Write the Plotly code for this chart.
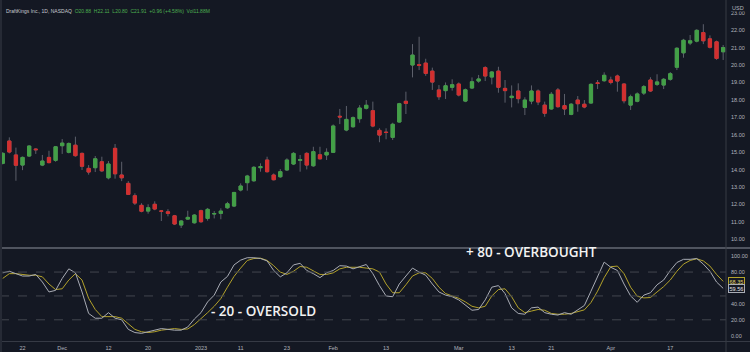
import pandas as pd
import plotly.graph_objects as go

# ---- categories: trading days (NASDAQ) ----
holidays = ["2022-11-24", "2022-12-26", "2023-01-02", "2023-01-16", "2023-02-20", "2023-04-07"]
cbd = pd.offsets.CustomBusinessDay(holidays=holidays)
dates = [d.strftime("%Y-%m-%d") for d in pd.date_range("2022-11-17", "2023-04-27", freq=cbd)]

# ---- OHLC values ----
opens = [14.36, 15.64, 14.84, 14.26, 14.78, 15.18, 14.26, 14.70, 14.53, 15.37,
         14.99, 15.40, 14.93, 14.07, 14.11, 14.45, 13.53, 15.22, 13.69, 13.21,
         12.50, 11.95, 11.62, 12.01, 11.63, 11.58, 11.35, 10.82, 11.16, 10.95,
         11.64, 11.20, 11.45, 11.49, 11.81, 11.91, 12.83, 13.25, 13.36, 14.11,
         14.55, 13.69, 13.59, 13.98, 14.32, 14.53, 14.93, 14.22, 14.85, 14.84,
         14.99, 17.06, 16.27, 16.46, 16.92, 17.52, 17.38, 16.25, 16.15, 15.85,
         16.73, 17.92, 20.00, 20.02, 20.11, 19.65, 18.57, 18.53, 18.72, 18.91,
         17.93, 18.68, 19.08, 19.85, 19.31, 19.65, 18.66, 18.13, 18.51, 17.57,
         17.93, 18.51, 17.70, 17.48, 18.57, 17.67, 17.17, 17.99, 17.75, 17.82,
         18.98, 19.10, 19.14, 19.37, 18.91, 17.70, 17.92, 18.39, 19.14, 18.89,
         18.85, 19.18, 19.87, 20.70, 21.26, 21.37, 21.86, 21.50, 21.33, 20.76]
highs = [15.00, 15.85, 15.26, 14.75, 15.40, 15.22, 14.84, 15.08, 15.35, 15.75,
         15.56, 15.89, 14.98, 14.26, 14.78, 14.74, 14.49, 15.47, 14.45, 13.34,
         12.64, 12.07, 12.01, 12.18, 11.68, 11.73, 11.40, 11.10, 11.64, 11.45,
         11.70, 11.80, 11.62, 11.78, 12.15, 12.72, 13.21, 13.70, 14.20, 14.36,
         14.74, 13.78, 14.03, 14.65, 15.00, 14.84, 15.00, 15.31, 15.31, 15.22,
         16.59, 17.48, 17.65, 17.05, 17.70, 17.99, 17.90, 16.37, 16.37, 16.69,
         17.83, 18.47, 21.20, 21.62, 20.36, 19.85, 18.85, 19.00, 19.18, 19.00,
         18.65, 19.29, 19.43, 19.93, 19.65, 19.90, 19.14, 18.83, 18.95, 18.15,
         18.83, 18.60, 17.90, 18.45, 18.68, 18.34, 17.82, 18.22, 17.99, 18.95,
         19.14, 19.58, 19.33, 19.45, 18.95, 18.30, 18.43, 18.85, 19.30, 19.47,
         19.25, 19.60, 21.02, 21.50, 21.72, 22.05, 22.34, 21.70, 21.40, 21.15]
lows = [14.30, 14.93, 13.36, 13.97, 14.72, 14.90, 14.20, 14.36, 14.45, 14.90,
        14.93, 14.74, 13.98, 13.71, 13.86, 13.86, 13.44, 13.48, 13.34, 12.55,
        11.97, 11.55, 11.47, 11.67, 11.05, 11.32, 10.82, 10.65, 11.13, 10.90,
        10.95, 11.07, 11.20, 11.15, 11.75, 11.85, 12.75, 12.79, 13.30, 13.88,
        13.83, 13.38, 13.53, 13.92, 14.26, 13.88, 14.01, 14.16, 14.58, 14.55,
        14.95, 16.61, 16.20, 16.40, 16.69, 17.45, 16.43, 15.57, 15.74, 15.70,
        16.69, 17.19, 19.29, 19.71, 19.38, 18.57, 18.00, 18.05, 18.53, 18.20,
        17.87, 18.62, 18.98, 19.08, 18.89, 18.41, 17.84, 17.57, 17.80, 17.13,
        17.75, 17.70, 17.03, 17.43, 17.55, 17.13, 17.12, 17.32, 17.52, 17.78,
        18.62, 19.04, 18.89, 18.47, 17.80, 17.42, 17.86, 18.28, 18.45, 18.80,
        18.62, 19.10, 19.71, 20.42, 21.14, 21.30, 21.20, 20.95, 20.30, 20.29]
closes = [14.93, 15.01, 14.25, 14.70, 15.35, 15.14, 14.49, 14.40, 15.31, 15.52,
          15.50, 14.80, 14.19, 13.86, 14.62, 13.93, 14.32, 13.76, 13.53, 12.58,
          12.08, 11.61, 11.81, 11.74, 11.61, 11.49, 10.88, 11.05, 11.26, 11.39,
          11.01, 11.72, 11.48, 11.62, 12.04, 12.69, 13.06, 13.63, 14.13, 14.17,
          13.88, 13.42, 13.88, 14.55, 14.93, 14.57, 14.26, 15.03, 14.62, 14.99,
          16.50, 17.02, 16.88, 16.98, 17.53, 17.69, 16.50, 15.98, 16.13, 16.60,
          17.78, 17.80, 20.57, 19.98, 19.52, 19.02, 18.18, 18.81, 18.87, 18.28,
          18.58, 19.04, 19.20, 19.37, 19.60, 18.72, 18.53, 18.21, 18.07, 17.99,
          18.51, 17.88, 17.23, 18.32, 17.61, 17.48, 17.75, 17.78, 17.59, 18.89,
          18.94, 19.41, 19.00, 19.08, 17.95, 18.18, 18.34, 18.76, 18.51, 19.03,
          19.18, 19.50, 20.96, 21.42, 21.39, 21.99, 21.39, 21.02, 20.38, 21.00]

# ---- Stochastic %K and %D ----
stoch_k = [79, 81, 78, 75, 75, 77, 67.5, 55, 57, 72,
           84, 79, 55, 28, 22, 22, 29, 22, 20, 8,
           4, 3, 5, 7, 9, 8, 7, 7, 11, 21,
           29, 42.5, 51, 67.5, 74.5, 89, 95, 98, 98, 97,
           94, 82, 74, 79, 89, 91, 82, 78, 73, 79,
           82, 88, 87.5, 84, 87, 89.5, 78, 63, 50, 49,
           65, 75, 85, 80, 76, 65, 55, 51, 49, 45,
           38, 32, 33, 45, 61, 63, 53, 35, 28, 27,
           35, 36, 29, 27, 26, 29, 27, 33, 38, 56,
           75, 92.5, 86, 82, 65, 50, 42, 51, 54, 64,
           70, 82, 92, 96, 96, 97, 90, 81, 67.5, 59.56]
stoch_d = [72, 78, 78, 77, 76, 76, 74, 65, 58, 59,
           70, 78, 70, 47, 33, 24, 24, 24, 22, 15,
           8, 5, 4, 5, 7, 8, 9, 8, 8.5, 14,
           21, 29, 37, 46.7, 61, 74.6, 85, 94.6, 97, 97.5,
           94.6, 88, 80, 77, 81, 87, 86, 81, 77, 77,
           79, 84, 86, 86, 86, 85, 84, 80, 65, 54,
           54, 64, 75, 79, 79, 72, 61, 53, 50, 47,
           42.5, 37, 35, 37, 50, 58, 59, 49, 35, 29,
           31, 33, 32, 28, 27, 27, 28, 30, 32.5, 41.7,
           56, 73, 86.7, 87.5, 78, 61, 49.6, 47.5, 48, 55,
           61.7, 70, 81, 90, 94.6, 96.7, 94, 87.5, 77, 68.35]

# ---- axis labels ----
tick_dates = ["2022-11-22", "2022-12-01", "2022-12-12", "2022-12-20", "2023-01-03", "2023-01-11",
              "2023-01-23", "2023-02-01", "2023-02-13", "2023-03-01", "2023-03-13", "2023-03-21",
              "2023-04-03", "2023-04-17"]
tick_text = ["22", "Dec", "12", "20", "2023", "11", "23", "Feb", "13", "Mar", "13", "21", "Apr", "17"]
price_ticks = [10, 11, 12, 13, 14, 15, 16, 17, 18, 19, 20, 21, 22, 23]
stoch_ticks = [0, 20, 40, 80, 100]
stoch_levels = [80, 50, 20]

BG = "#141823"
GREEN = "#43a047"
RED = "#d32f2f"
WICK = "#5d606b"
AX = "#b2b5be"
LINE = "#363a45"
K_COL = "#a9acb5"
D_COL = "#b3a22b"

body_hi = [max(o, c) for o, c in zip(opens, closes)]
body_lo = [min(o, c) for o, c in zip(opens, closes)]

fig = go.Figure()
# wicks
fig.add_trace(go.Candlestick(
    x=dates, open=opens, high=highs, low=lows, close=closes,
    increasing=dict(line=dict(color=WICK, width=1), fillcolor=WICK),
    decreasing=dict(line=dict(color=WICK, width=1), fillcolor=WICK),
    whiskerwidth=0, xaxis="x", yaxis="y", showlegend=False, hoverinfo="skip"))
# bodies
fig.add_trace(go.Candlestick(
    x=dates, open=opens, high=body_hi, low=body_lo, close=closes,
    increasing=dict(line=dict(color=GREEN, width=1), fillcolor=GREEN),
    decreasing=dict(line=dict(color=RED, width=1), fillcolor=RED),
    whiskerwidth=0, xaxis="x", yaxis="y", showlegend=False))
# stochastic
fig.add_trace(go.Scatter(x=dates, y=stoch_d, mode="lines", line=dict(color=D_COL, width=1),
                         xaxis="x", yaxis="y2", showlegend=False))
fig.add_trace(go.Scatter(x=dates, y=stoch_k, mode="lines", line=dict(color=K_COL, width=1),
                         xaxis="x", yaxis="y2", showlegend=False))

H = 352.0
W = 750.0
x_end = 726 / W
shapes = []
for lv in stoch_levels:
    shapes.append(dict(type="line", xref="paper", yref="y2", x0=0, x1=x_end, y0=lv, y1=lv,
                       line=dict(color="#42464f", width=1, dash="dash")))
# pane separator, bottom axis line, right axis border, left border
shapes.append(dict(type="line", xref="paper", yref="paper", x0=0, x1=1, y0=1 - 248 / H, y1=1 - 248 / H,
                   line=dict(color="#50545f", width=2)))
shapes.append(dict(type="line", xref="paper", yref="paper", x0=0, x1=1, y0=1 - 341.5 / H, y1=1 - 341.5 / H,
                   line=dict(color=LINE, width=1)))
shapes.append(dict(type="line", xref="paper", yref="paper", x0=x_end, x1=x_end, y0=0, y1=1,
                   line=dict(color=LINE, width=1)))
shapes.append(dict(type="line", xref="paper", yref="paper", x0=1 / W, x1=1 / W, y0=0, y1=1,
                   line=dict(color="#262a35", width=2)))

annotations = [
    dict(text="USD", xref="paper", yref="paper", x=738 / W, y=1 - 4 / H, showarrow=False,
         font=dict(size=5.5, color=AX, family="Arial"), bgcolor=BG, borderpad=0, xanchor="center"),
    dict(text="DraftKings Inc., 1D, NASDAQ  <span style='color:#4caf50'>O20.88  H22.11  L20.80  C21.91  +0.96 (+4.58%)  Vol11.88M</span>",
         xref="paper", yref="paper", x=4 / W, y=1 - 6 / H, showarrow=False, xanchor="left",
         font=dict(size=5, color="#c8cad0", family="Arial")),
    dict(text="+ 80 - OVERBOUGHT", xref="paper", yref="paper", x=464 / W, y=1 - 263 / H, showarrow=False,
         xanchor="left", font=dict(size=13.5, color="#f2f2f2", family="Open Sans", weight=600)),
    dict(text="- 20 - OVERSOLD", xref="paper", yref="paper", x=209 / W, y=1 - 322 / H, showarrow=False,
         xanchor="left", font=dict(size=13.5, color="#f2f2f2", family="Open Sans", weight=600)),
    dict(text="68.35", xref="paper", yref="y2", x=736.5 / W, y=stoch_d[-1], showarrow=False,
         font=dict(size=5.5, color="#e0d36a", family="Arial"), bgcolor=BG, bordercolor=D_COL,
         borderwidth=1, borderpad=0.5, xanchor="center"),
    dict(text="59.56", xref="paper", yref="y2", x=736.5 / W, y=stoch_k[-1], showarrow=False,
         font=dict(size=5.5, color="#e6e7ea", family="Arial"), bgcolor=BG, bordercolor=K_COL,
         borderwidth=1, borderpad=0.5, xanchor="center"),
]

fig.update_layout(
    width=750, height=352, margin=dict(l=0, r=0, t=0, b=0),
    paper_bgcolor=BG, plot_bgcolor=BG, boxgap=0.3, showlegend=False,
    xaxis=dict(type="category", domain=[0, x_end], range=[-0.41, 109.43], anchor="y2",
               tickmode="array", tickvals=tick_dates, ticktext=tick_text, showgrid=False,
               zeroline=False, showline=False, ticks="", rangeslider=dict(visible=False),
               tickfont=dict(size=5.5, color=AX, family="Arial"), ticklabelstandoff=2),
    yaxis=dict(domain=[1 - 247 / H, 1], range=[9.56, 23.73], side="right", anchor="x",
               tickmode="array", tickvals=price_ticks, ticktext=[f"{v:.2f}" for v in price_ticks],
               showgrid=False, zeroline=False, showline=False, ticks="",
               tickfont=dict(size=5.5, color=AX, family="Arial"), ticklabelstandoff=4),
    yaxis2=dict(domain=[1 - 341.5 / H, 1 - 248.5 / H], range=[-7.25, 109.6], side="right", anchor="x",
                tickmode="array", tickvals=stoch_ticks, ticktext=[f"{v:.2f}" for v in stoch_ticks],
                showgrid=False, zeroline=False, showline=False, ticks="",
                tickfont=dict(size=5.5, color=AX, family="Arial"), ticklabelstandoff=4),
    shapes=shapes, annotations=annotations,
)

fig.write_html("out.html")
